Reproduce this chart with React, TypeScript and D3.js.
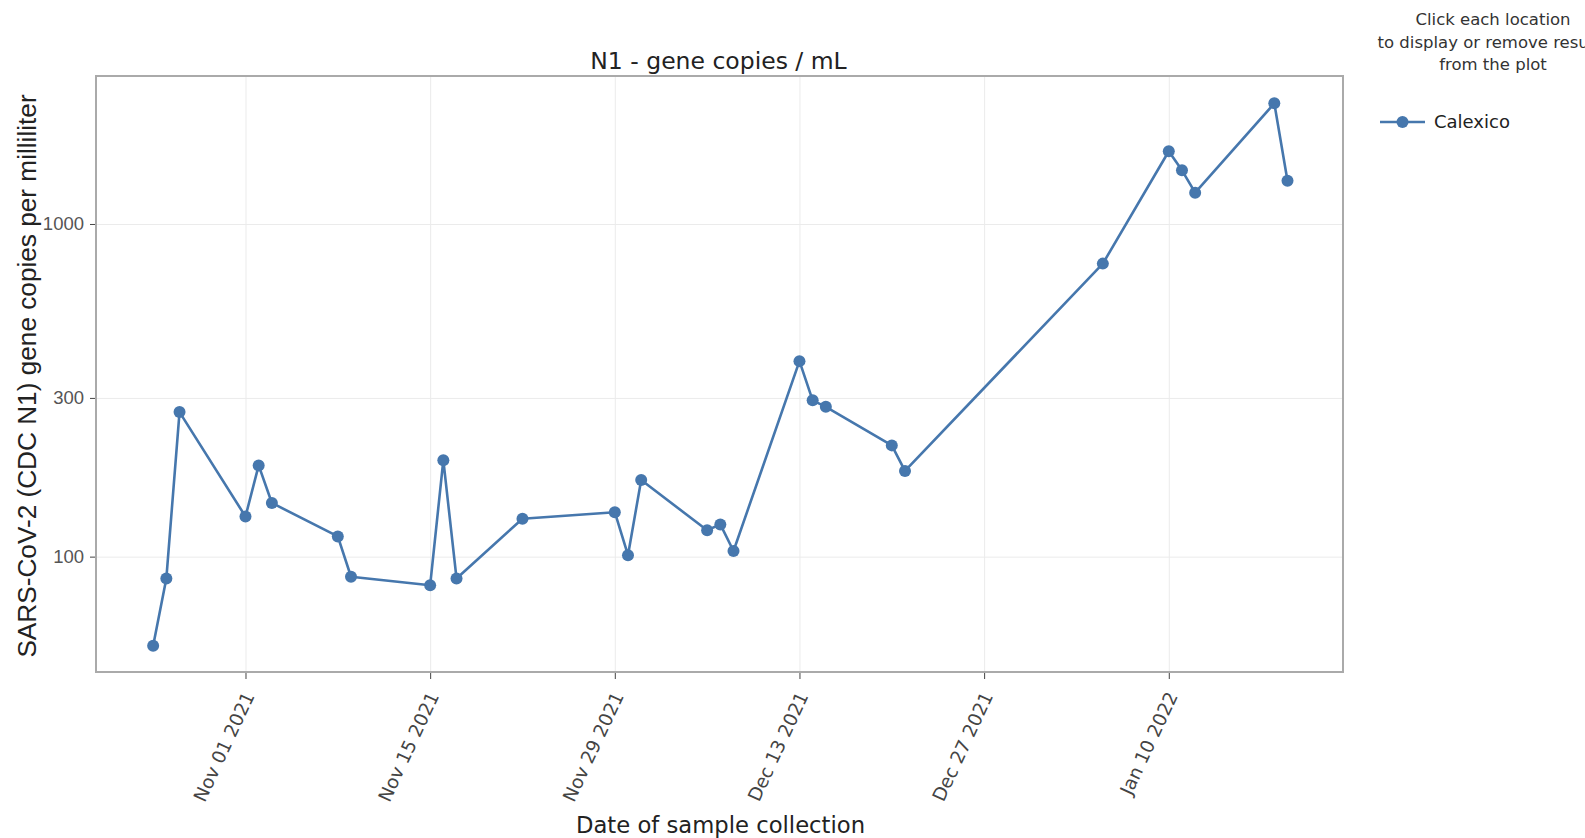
import { useRef, useEffect } from 'react';
import { select, scaleLog, scaleTime, timeParse, timeFormat, axisBottom, axisLeft, line } from 'd3';

// Calexico samples, N1 gene copies per mL
const sampleDates = [
    "2021-10-25", "2021-10-26", "2021-10-27", "2021-11-01", "2021-11-02", "2021-11-03",
    "2021-11-08", "2021-11-09", "2021-11-15", "2021-11-16", "2021-11-17", "2021-11-22",
    "2021-11-29", "2021-11-30", "2021-12-01", "2021-12-06", "2021-12-07", "2021-12-08",
    "2021-12-13", "2021-12-14", "2021-12-15", "2021-12-20", "2021-12-21", "2022-01-05",
    "2022-01-10", "2022-01-11", "2022-01-12", "2022-01-18", "2022-01-19",
]
const copiesPerMl = [
    54, 86, 272, 132, 188, 145,
    115, 87, 82, 195, 86, 130,
    136, 101, 170, 120, 125, 104,
    387, 295, 282, 216, 181, 760,
    1654, 1450, 1242, 2305, 1349,
]
const xTickDates = ["2021-11-01", "2021-11-15", "2021-11-29", "2021-12-13", "2021-12-27", "2022-01-10"]
const yTickValues = [100, 300, 1000]
const xDomain = ["2021-10-20 16:00", "2022-01-23 05:00"]
const yDomain = [45, 2785]

const seriesName = "Calexico"
const chartTitle = "N1 - gene copies / mL"
const xTitle = "Date of sample collection"
const yTitle = "SARS-CoV-2 (CDC N1) gene copies per milliliter"
const legendTitle = ["Click each location", "to display or remove results", "from the plot"]

const W = 1585
const H = 838
const margin = { top: 76, right: 242, bottom: 166, left: 96 }
const width = W - margin.left - margin.right
const height = H - margin.top - margin.bottom

const blue = "#4677ad"
const verdanaLike = "'DejaVu Sans', Verdana, sans-serif"
const arialLike = "'Liberation Sans', Arial, sans-serif"

const parseDay = timeParse("%Y-%m-%d")
const parseHour = timeParse("%Y-%m-%d %H:%M")

const App = () => {
    const d3svg = useRef(null)

    useEffect(() => {
        document.body.style.margin = "0"
        if (!d3svg.current) return
        const root = select(d3svg.current)
        root.selectAll("*").remove()

        const x = scaleTime()
            .domain(xDomain.map(d => parseHour(d)))
            .range([0, width])
        const y = scaleLog()
            .domain(yDomain)
            .range([height, 0])

        const data = sampleDates.map((d, i) => ({ date: parseDay(d), value: copiesPerMl[i] }))
        const xTicks = xTickDates.map(d => parseDay(d))

        const svg = root.append("g")
            .attr("transform", `translate(${margin.left}, ${margin.top})`)

        // grid
        svg.append("g")
            .attr("transform", `translate(0, ${height})`)
            .call(axisBottom(x).tickValues(xTicks).tickSize(-height).tickFormat(() => ""))
            .call(g => g.select(".domain").remove())
            .selectAll("line").attr("stroke", "#ebebeb").attr("stroke-width", 1)
        svg.append("g")
            .call(axisLeft(y).tickValues(yTickValues).tickSize(-width).tickFormat(() => ""))
            .call(g => g.select(".domain").remove())
            .selectAll("line").attr("stroke", "#ebebeb").attr("stroke-width", 1)

        // x axis
        const xAxisGroup = svg.append("g")
            .attr("transform", `translate(0, ${height})`)
            .call(axisBottom(x).tickValues(xTicks).tickFormat(timeFormat("%b %d %Y")).tickSize(7))
        xAxisGroup.select(".domain").remove()
        xAxisGroup.selectAll("line").attr("stroke", "#444")
        xAxisGroup.selectAll("text")
            .attr("x", 0)
            .attr("y", 0)
            .attr("dy", "0.35em")
            .attr("text-anchor", "end")
            .attr("transform", "translate(3, 21) rotate(-65)")
            .style("font-family", verdanaLike)
            .style("font-size", "18.5px")
            .attr("fill", "#444")

        // y axis
        const yAxisGroup = svg.append("g")
            .call(axisLeft(y).tickValues(yTickValues).tickFormat(d => String(d)).tickSize(6).tickPadding(6))
        yAxisGroup.select(".domain").remove()
        yAxisGroup.selectAll("line").attr("stroke", "#444")
        yAxisGroup.selectAll("text")
            .style("font-family", arialLike)
            .style("font-size", "18.5px")
            .attr("fill", "#555")

        // frame
        svg.append("rect")
            .attr("width", width)
            .attr("height", height)
            .attr("fill", "none")
            .attr("stroke", "#aaaaaa")
            .attr("stroke-width", 2)

        // series
        const path = line()
            .x(d => x(d.date))
            .y(d => y(d.value))
        svg.append("path")
            .datum(data)
            .attr("d", path)
            .attr("fill", "none")
            .attr("stroke", blue)
            .attr("stroke-width", 2.6)
            .attr("stroke-linejoin", "round")
        svg.selectAll("circle")
            .data(data)
            .enter()
            .append("circle")
            .attr("cx", d => x(d.date))
            .attr("cy", d => y(d.value))
            .attr("r", 6)
            .attr("fill", blue)

        // titles
        root.append("text")
            .attr("x", margin.left + width / 2 - 1)
            .attr("y", 69)
            .attr("text-anchor", "middle")
            .style("font-family", verdanaLike)
            .style("font-size", "23.5px")
            .attr("fill", "#222")
            .text(chartTitle)
        root.append("text")
            .attr("x", margin.left + width / 2 + 1)
            .attr("y", 833)
            .attr("text-anchor", "middle")
            .style("font-family", verdanaLike)
            .style("font-size", "22.7px")
            .attr("fill", "#222")
            .text(xTitle)
        root.append("text")
            .attr("transform", `translate(36, ${margin.top + height / 2 + 2}) rotate(-90)`)
            .attr("text-anchor", "middle")
            .style("font-family", arialLike)
            .style("font-size", "26.2px")
            .attr("fill", "#222")
            .text(yTitle)

        // legend
        const legend = root.append("g")
        legend.selectAll("text.head")
            .data(legendTitle)
            .enter()
            .append("text")
            .attr("class", "head")
            .attr("x", 1493)
            .attr("y", (d, i) => 25 + i * 22.5)
            .attr("text-anchor", "middle")
            .style("font-family", verdanaLike)
            .style("font-size", "16.5px")
            .attr("fill", "#333")
            .text(d => d)
        legend.append("line")
            .attr("x1", 1380).attr("x2", 1425)
            .attr("y1", 122).attr("y2", 122)
            .attr("stroke", blue)
            .attr("stroke-width", 2.6)
        legend.append("circle")
            .attr("cx", 1402.5).attr("cy", 122)
            .attr("r", 6)
            .attr("fill", blue)
        legend.append("text")
            .attr("x", 1434)
            .attr("y", 122)
            .attr("dy", "0.35em")
            .style("font-family", verdanaLike)
            .style("font-size", "18px")
            .attr("fill", "#222")
            .text(seriesName)
    }, [])

    return (
        <svg
            width={W}
            height={H}
            style={{ display: "block" }}
            role="img"
            ref={d3svg}
        ></svg>
    )
}

export default App;
